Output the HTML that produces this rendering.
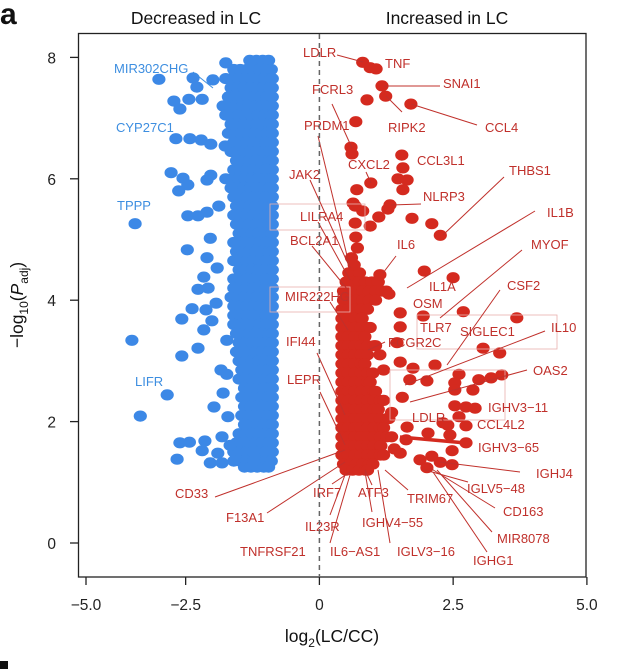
<!DOCTYPE html>
<html><head><meta charset="utf-8"><style>
html,body{margin:0;padding:0;background:#fff;}
svg{display:block;font-family:"Liberation Sans",sans-serif;}
.rl{fill:#c0302b;font-size:13px;}
.bl{fill:#3d8ee0;font-size:13px;}
.tk{fill:#222;font-size:15.5px;}
</style></head><body>
<svg id="chart" width="636" height="669" viewBox="0 0 636 669" xmlns="http://www.w3.org/2000/svg">
<text x="0" y="24" font-size="30" font-weight="bold" fill="#111">a</text>
<rect x="0" y="661" width="8" height="8" fill="#111"/>
<text x="196" y="24" font-size="17.5" fill="#111" text-anchor="middle">Decreased in LC</text>
<text x="447" y="24" font-size="17.5" fill="#111" text-anchor="middle">Increased in LC</text>
<g id="marks"></g>
<g id="ann"></g>
<rect x="78.5" y="33.5" width="507.5" height="543.5" fill="none" stroke="#222" stroke-width="1.3"/>
<g id="axes"></g>
<text x="332" y="642" font-size="17.5" fill="#111" text-anchor="middle">log<tspan font-size="12" dy="5">2</tspan><tspan dy="-5">(LC/CC)</tspan></text>
<text transform="translate(23,305) rotate(-90)" font-size="17.5" fill="#111" text-anchor="middle">−log<tspan font-size="12" dy="5">10</tspan><tspan dy="-5">(</tspan><tspan font-style="italic">P</tspan><tspan font-size="12" dy="5">adj</tspan><tspan dy="-5">)</tspan></text>
</svg>
<script>
const xTicks=[-5.0,-2.5,0,2.5,5.0];
const xTickLabels=["−5.0","−2.5","0","2.5","5.0"];
const yTicks=[0,2,4,6,8];
const yTickLabels=["0","2","4","6","8"];
const blueX=[-3.16,-2.36,-2.29,-2.19,-2.44,-2.78,-2.63,-1.75,-1.99,-2.73,-2.42,-2.21,-2.03,-1.76,-2.85,-2.55,-2.46,-2.10,-2.03,-3.76,-2.46,-2.27,-2.10,-1.88,-2.47,-2.04,-2.10,-1.91,-2.16,-2.27,-2.08,-2.38,-2.12,-1.93,-2.58,-2.01,-2.16,-3.84,-2.27,-2.58,-2.95,-3.63,-1.97,-1.80,-2.63,-2.43,-2.14,-2.19,-2.70,-1.90,-2.04,-1.82,-1.82,-1.67,-1.71,-1.84,-1.73,-1.73,-2.66];
const blueY=[7.64,7.66,7.51,7.31,7.31,7.28,7.15,7.91,7.63,6.66,6.66,6.64,6.57,6.54,6.10,6.01,5.90,5.98,6.06,5.26,5.39,5.39,5.45,5.55,4.83,5.02,4.70,4.53,4.38,4.18,4.20,3.86,3.84,3.95,3.69,3.66,3.51,3.34,3.21,3.08,2.44,2.09,2.24,2.47,1.65,1.66,1.68,1.52,1.38,1.48,1.32,1.32,1.75,1.61,2.08,2.85,2.78,3.34,5.80];
const blueBandY=[7.95,7.8,7.65,7.5,7.35,7.2,7.05,6.9,6.75,6.6,6.45,6.3,6.15,6.0,5.85,5.7,5.55,5.4,5.25,5.1,4.95,4.8,4.65,4.5,4.35,4.2,4.05,3.9,3.75,3.6,3.45,3.3,3.15,3.0,2.85,2.7,2.55,2.4,2.25,2.1,1.95,1.8,1.65,1.5,1.35,1.25];
const blueBandLeft=[-1.3,-1.6,-1.75,-1.65,-1.7,-1.8,-1.75,-1.65,-1.7,-1.6,-1.65,-1.55,-1.6,-1.75,-1.65,-1.6,-1.55,-1.6,-1.55,-1.5,-1.6,-1.55,-1.6,-1.5,-1.6,-1.6,-1.65,-1.6,-1.6,-1.6,-1.55,-1.5,-1.55,-1.5,-1.45,-1.5,-1.4,-1.45,-1.4,-1.45,-1.4,-1.5,-1.55,-1.6,-1.6,-1.4];
const blueBandRight=[-0.95,-0.9,-0.88,-0.88,-0.88,-0.88,-0.88,-0.88,-0.88,-0.88,-0.88,-0.88,-0.88,-0.88,-0.88,-0.88,-0.88,-0.88,-0.88,-0.88,-0.88,-0.88,-0.88,-0.88,-0.88,-0.88,-0.88,-0.88,-0.88,-0.88,-0.88,-0.88,-0.88,-0.88,-0.88,-0.88,-0.88,-0.88,-0.88,-0.88,-0.88,-0.88,-0.88,-0.88,-0.9,-0.95];
const redX=[0.81,0.95,1.06,1.17,1.24,0.89,1.71,0.68,0.59,0.61,0.96,1.54,1.56,1.47,1.64,1.56,0.70,0.63,0.67,0.81,1.32,1.28,1.11,0.95,0.67,1.73,2.10,2.26,0.68,0.71,1.13,1.96,2.50,1.94,2.69,3.69,3.06,3.37,2.16,1.75,1.51,1.69,2.01,2.61,2.53,2.53,2.87,2.98,3.21,3.41,2.53,2.74,2.91,2.61,2.31,2.40,2.74,2.74,2.44,2.03,1.64,2.48,2.10,2.26,2.48,1.88,2.01,1.51,1.13,1.51,1.51,0.60,0.65,1.30,1.45,1.20,1.55,1.35,1.62,1.40];
const redY=[7.92,7.83,7.81,7.53,7.36,7.30,7.23,6.94,6.52,6.41,5.93,6.39,6.18,6.00,5.98,5.82,5.82,5.60,5.55,5.47,5.57,5.50,5.37,5.22,5.27,5.35,5.26,5.07,5.04,4.86,4.42,4.48,4.37,3.74,3.81,3.71,3.21,3.13,2.93,2.88,2.98,2.69,2.67,2.78,2.64,2.52,2.52,2.69,2.72,2.77,2.26,2.24,2.22,2.08,1.98,1.94,1.93,1.65,1.78,1.81,1.91,1.52,1.43,1.33,1.29,1.37,1.24,1.48,3.10,3.56,3.79,4.70,4.58,4.10,3.30,2.85,2.40,2.15,1.70,1.55];
const redBandY=[4.45,4.3,4.15,4.0,3.85,3.7,3.55,3.4,3.25,3.1,2.95,2.8,2.65,2.5,2.35,2.2,2.05,1.9,1.75,1.6,1.45,1.3,1.2];
const redBandLeft=[0.55,0.5,0.45,0.45,0.42,0.42,0.42,0.42,0.42,0.42,0.42,0.42,0.42,0.42,0.42,0.42,0.42,0.42,0.42,0.42,0.42,0.45,0.5];
const redBandRight=[0.75,1.1,1.25,1.05,0.9,0.8,0.95,0.85,1.05,0.9,0.85,1.0,0.95,1.05,1.2,1.1,1.3,1.2,1.35,1.15,1.2,1.0,0.9];

const NS="http://www.w3.org/2000/svg";
function xs(v){return v>=-2.5?319.4+v*53.5:185+(v+2.5)*39.6;}
function ys(v){return 543-v*60.7;}
const marks=document.getElementById('marks');
const axes=document.getElementById('axes');
const ann=document.getElementById('ann');
function dot(x,y,c,name){
  const e=document.createElementNS(NS,'ellipse');
  e.setAttribute('cx',xs(x).toFixed(1));e.setAttribute('cy',ys(y).toFixed(1));
  e.setAttribute('rx',6.6);e.setAttribute('ry',5.6);e.setAttribute('fill',c);
  
  
  marks.appendChild(e);
}
const BLUE="#3c88e6",RED="#d42a1f";
for(let i=0;i<blueBandY.length;i++){
  for(let x=blueBandLeft[i];x<blueBandRight[i];x+=0.12) dot(x,blueBandY[i],BLUE,'down-gene-point');
  dot(blueBandRight[i],blueBandY[i],BLUE,'down-gene-point');
}
for(let i=0;i<blueX.length;i++) dot(blueX[i],blueY[i],BLUE,'down-gene-point');
for(let i=0;i<redBandY.length;i++){
  for(let x=redBandLeft[i];x<redBandRight[i];x+=0.12) dot(x,redBandY[i],RED,'up-gene-point');
  dot(redBandRight[i],redBandY[i],RED,'up-gene-point');
}
for(let i=0;i<redX.length;i++) dot(redX[i],redY[i],RED,'up-gene-point');

const zl=document.createElementNS(NS,'line');
zl.setAttribute('x1',xs(0));zl.setAttribute('x2',xs(0));zl.setAttribute('y1',34);zl.setAttribute('y2',576);
zl.setAttribute('stroke','#666');zl.setAttribute('stroke-width',1.5);zl.setAttribute('stroke-dasharray','5,4');


axes.appendChild(zl);
for(let i=0;i<xTicks.length;i++){
  const x=xs(xTicks[i]);
  const l=document.createElementNS(NS,'line');
  l.setAttribute('x1',x);l.setAttribute('x2',x);l.setAttribute('y1',577);l.setAttribute('y2',585);l.setAttribute('stroke','#222');l.setAttribute('stroke-width',1.3);
  
  
  axes.appendChild(l);
  const t=document.createElementNS(NS,'text');
  t.setAttribute('x',x);t.setAttribute('y',610);t.setAttribute('text-anchor','middle');t.setAttribute('class','tk');
  t.textContent=xTickLabels[i];
  
  
  axes.appendChild(t);
}
for(let i=0;i<yTicks.length;i++){
  const y=ys(yTicks[i]);
  const l=document.createElementNS(NS,'line');
  l.setAttribute('x1',70);l.setAttribute('x2',78);l.setAttribute('y1',y);l.setAttribute('y2',y);l.setAttribute('stroke','#222');l.setAttribute('stroke-width',1.3);
  
  
  axes.appendChild(l);
  const t=document.createElementNS(NS,'text');
  t.setAttribute('x',56);t.setAttribute('y',y+6);t.setAttribute('text-anchor','end');t.setAttribute('class','tk');
  t.textContent=yTickLabels[i];
  
  
  axes.appendChild(t);
}
const redLabels=[
["LDLR",303,52,337,55,363,62],["TNF",385,63],["SNAI1",443,83,440,86,384,86],["FCRL3",312,89,332,104,352,148],
["PRDM1",304,125,318,136,350,268],["RIPK2",388,127,402,112,386,96],["CCL4",485,127,477,125,411,104],
["CXCL2",348,164,366,172,371,183],["CCL3L1",417,160],["THBS1",509,170,504,177,443,235],["JAK2",289,174,310,180,350,268],
["NLRP3",423,196,421,204,391,205],["IL1B",547,212,535,211,407,288],["LILRA4",300,216,318,222,350,280],["BCL2A1",290,240,312,246,348,290],
["IL6",397,244,396,256,383,273],["MYOF",531,244,522,250,440,318],["IL1A",429,286],["CSF2",507,285,500,290,447,365],
["MIR222HG",285,296,330,302,348,330],["OSM",413,303],["TLR7",420,327],["SIGLEC1",460,331],["IL10",551,327,545,331,405,385],
["FCGR2C",388,342,385,342,368,350],["IFI44",286,341,317,353,345,415],["OAS2",533,370,527,370,410,402],["LEPR",287,379,320,392,345,445],
["IGHV3-11",488,407],["LDLR",412,417],["CCL4L2",477,424],["IGHV3-65",478,447],["IGHJ4",536,473,520,472,440,462],
["IGLV5-48",467,488,468,482,425,470],["CD33",175,493,215,497,345,450],["CD163",503,511,495,508,430,468],["F13A1",226,517,267,513,345,462],
["IRF7",313,492,332,484,350,472],["ATF3",358,492,372,485,365,470],["TRIM67",407,498,408,490,385,470],["IL23R",305,526,330,515,345,475],
["IGHV4-55",362,522,372,512,365,472],["MIR8078",497,538,492,532,437,470],["IL6-AS1",330,551,330,543,350,475],["IGLV3-16",397,551,390,543,378,470],
["IGHG1",473,560,487,552,433,472],["TNFRSF21",240,551]
];
const blueLabels=[["MIR302CHG",114,68,193,72,213,88],["CYP27C1",116,127],["TPPP",117,205],["LIFR",135,381]];
function addLabel(L,cls,col,name){
  if(L.length>3){
    const l=document.createElementNS(NS,'line');
    l.setAttribute('x1',L[3]);l.setAttribute('y1',L[4]);l.setAttribute('x2',L[5]);l.setAttribute('y2',L[6]);
    l.setAttribute('stroke',col);l.setAttribute('stroke-width',1);
    
    
    ann.appendChild(l);
  }
  const t=document.createElementNS(NS,'text');
  t.setAttribute('x',L[1]);t.setAttribute('y',L[2]+5);t.setAttribute('class',cls);
  t.textContent=L[0].replace('-','−');
  
  
  ann.appendChild(t);
}
[[270,204,95,26],[270,287,80,25],[417,315,140,34],[390,370,115,50]].forEach(b=>{
  const r=document.createElementNS(NS,'rect');
  r.setAttribute('x',b[0]);r.setAttribute('y',b[1]);r.setAttribute('width',b[2]);r.setAttribute('height',b[3]);
  r.setAttribute('fill','none');r.setAttribute('stroke','#e9b0ad');r.setAttribute('stroke-width',0.8);
  
  
  ann.appendChild(r);
});
const thick=document.createElementNS(NS,'line');
thick.setAttribute('x1',400);thick.setAttribute('y1',437);thick.setAttribute('x2',466);thick.setAttribute('y2',443);
thick.setAttribute('stroke',RED);thick.setAttribute('stroke-width',3.5);


ann.appendChild(thick);
redLabels.forEach(L=>addLabel(L,'rl','#c0302b','up-gene-label'));
blueLabels.forEach(L=>addLabel(L,'bl','#3d8ee0','down-gene-label'));
</script>
</body></html>
